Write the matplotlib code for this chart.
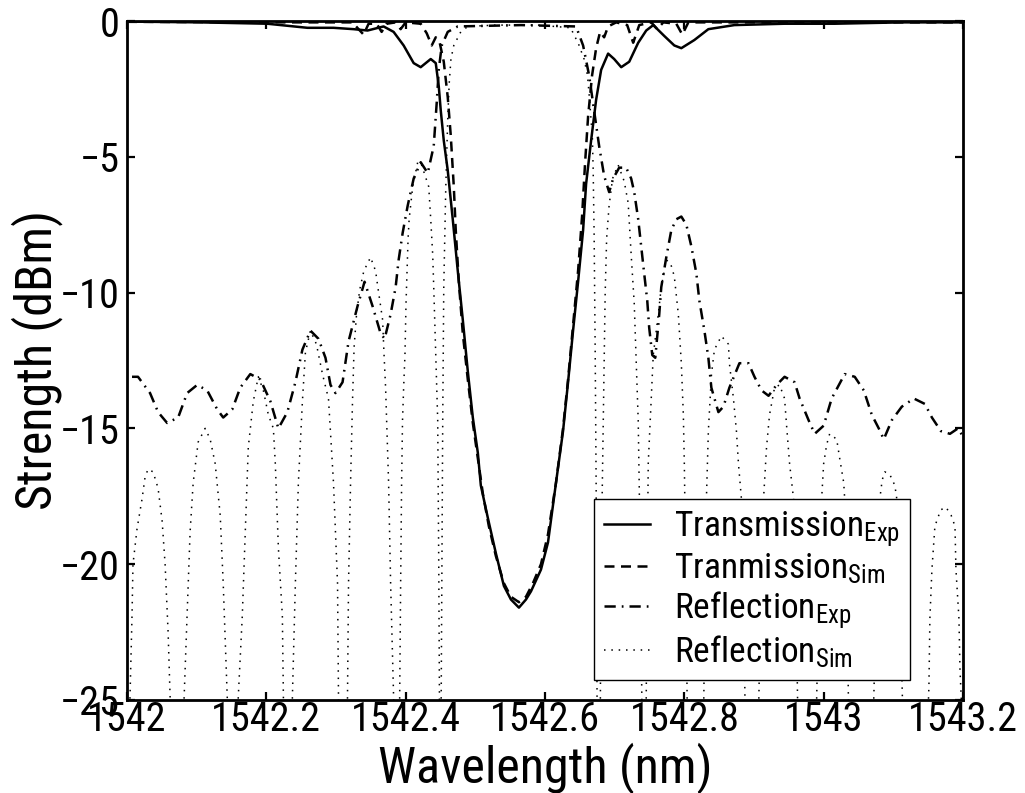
import matplotlib
matplotlib.use("Agg")
import matplotlib.pyplot as plt
from matplotlib import font_manager
from matplotlib.font_manager import FontProperties


def pick_font(*names):
    for n in names:
        try:
            font_manager.findfont(FontProperties(family=n), fallback_to_default=False)
            return n
        except Exception:
            pass
    return "DejaVu Sans"


FONT = pick_font("Roboto Condensed", "PT Sans Narrow", "Archivo Narrow", "Liberation Sans")
fs = 1.0 if FONT != "Liberation Sans" else 0.85

plt.rcParams["font.family"] = [FONT, "DejaVu Sans"]
plt.rcParams["mathtext.fontset"] = "custom"
plt.rcParams["mathtext.rm"] = FONT
plt.rcParams["mathtext.it"] = FONT
plt.rcParams["mathtext.bf"] = FONT

# ---- measured transmission (wavelength in nm, strength in dBm) ----
wl_trans_exp = [1542.000, 1542.105, 1542.2014, 1542.2590, 1542.2964, 1542.3252, 1542.3453,
                1542.3683, 1542.3827, 1542.3971, 1542.4115, 1542.4216, 1542.4360, 1542.4432,
                1542.4475, 1542.4504, 1542.4547, 1542.4604, 1542.4676, 1542.4748, 1542.4820,
                1542.4892, 1542.4964, 1542.5036, 1542.5079, 1542.5180, 1542.5295, 1542.5410,
                1542.5511, 1542.5626, 1542.5727, 1542.5799, 1542.5942, 1542.6043, 1542.6158,
                1542.6259, 1542.6331, 1542.6403, 1542.6475, 1542.6547, 1542.6590, 1542.6662,
                1542.6734, 1542.6806, 1542.6906, 1542.6993, 1542.7094, 1542.7209, 1542.7338,
                1542.7453, 1542.7554, 1542.7712, 1542.7856, 1542.7957, 1542.8144, 1542.8345,
                1542.8719, 1542.9439, 1543.0158, 1543.1122, 1543.2000]
trans_exp = [-0.02, -0.05, -0.1, -0.25, -0.25, -0.3, -0.35,
             -0.2, -0.4, -0.9, -1.55, -1.7, -1.4, -1.55,
             -2.4, -3.3, -4.4, -5.5, -7.3, -9.2, -11.0,
             -12.9, -14.6, -15.9, -17.1, -18.3, -19.6, -20.8,
             -21.3, -21.6, -21.3, -21.0, -20.2, -19.2, -17.0,
             -15.1, -13.3, -11.4, -9.6, -7.7, -6.0, -4.4,
             -2.9, -1.8, -1.2, -1.4, -1.7, -1.5, -0.8,
             -0.35, -0.15, -0.55, -0.9, -1.0, -0.7, -0.3,
             -0.15, -0.1, -0.1, -0.05, -0.05]

# ---- simulated transmission ----
wl_trans_sim = [1542.000, 1542.2489, 1542.3237, 1542.3324, 1542.3396, 1542.3468, 1542.3583,
                1542.3655, 1542.3727, 1542.3856, 1542.3928, 1542.4000, 1542.4216, 1542.4302,
                1542.4374, 1542.4432, 1542.4489, 1542.4547, 1542.4604, 1542.4647, 1542.4691,
                1542.4719, 1542.4763, 1542.4820, 1542.4892, 1542.4964, 1542.5036, 1542.5108,
                1542.5194, 1542.5295, 1542.5410, 1542.5511, 1542.5626, 1542.5727, 1542.5827,
                1542.5942, 1542.6043, 1542.6158, 1542.6259, 1542.6331, 1542.6403, 1542.6475,
                1542.6532, 1542.6576, 1542.6619, 1542.6676, 1542.6734, 1542.6791, 1542.6849,
                1542.6906, 1542.7022, 1542.7180, 1542.7266, 1542.7353, 1542.7525, 1542.7612,
                1542.7698, 1542.7885, 1542.7971, 1542.8058, 1543.2000]
trans_sim = [-0.03, -0.05, -0.05, -0.3, -0.5, -0.1, -0.1,
             -0.4, -0.1, -0.05, -0.3, -0.05, -0.1, -0.45,
             -0.9, -0.6, -0.8, -1.5, -2.8, -4.2, -6.1,
             -7.7, -9.6, -11.5, -13.2, -14.8, -16.1, -17.4,
             -18.6, -19.7, -20.7, -21.2, -21.4, -21.2, -20.7,
             -20.0, -18.9, -17.0, -15.0, -13.2, -11.2, -9.2,
             -7.2, -5.2, -3.5, -2.0, -1.0, -0.4, -0.6,
             -0.2, -0.05, -0.15, -0.8, -0.15, -0.05, -0.3,
             -0.05, -0.1, -0.5, -0.05, -0.05]

# ---- measured reflection ----
wl_refl_exp = [1542.0072, 1542.0158, 1542.0331, 1542.0446, 1542.0576, 1542.0734, 1542.0863,
               1542.1007, 1542.1151, 1542.1295, 1542.1381, 1542.1511, 1542.1626, 1542.1770,
               1542.1914, 1542.2058, 1542.2173, 1542.2302, 1542.2417, 1542.2518, 1542.2633,
               1542.2748, 1542.2849, 1542.2921, 1542.2993, 1542.3094, 1542.3180, 1542.3309,
               1542.3410, 1542.3525, 1542.3640, 1542.3698, 1542.3784, 1542.3856, 1542.3899,
               1542.3957, 1542.4029, 1542.4115, 1542.4216, 1542.4317, 1542.4403, 1542.4446,
               1542.4475, 1542.4518, 1542.4604, 1542.4748, 1542.5655, 1542.6446, 1542.6547,
               1542.6633, 1542.6705, 1542.6777, 1542.6849, 1542.6921, 1542.6978, 1542.7065,
               1542.7165, 1542.7237, 1542.7281, 1542.7338, 1542.7381, 1542.7424, 1542.7468,
               1542.7496, 1542.7540, 1542.7583, 1542.7640, 1542.7669, 1542.7741, 1542.7813,
               1542.7885, 1542.7957, 1542.8029, 1542.8101, 1542.8173, 1542.8216, 1542.8288,
               1542.8345, 1542.8388, 1542.8489, 1542.8561, 1542.8647, 1542.8791, 1542.8921,
               1542.9007, 1542.9108, 1542.9209, 1542.9324, 1542.9439, 1542.9583, 1542.9655,
               1542.9784, 1542.9871, 1543.0000, 1543.0115, 1543.0302, 1543.0446, 1543.0576,
               1543.0691, 1543.0791, 1543.0863, 1543.0978, 1543.1122, 1543.1295, 1543.1453,
               1543.1554, 1543.1683, 1543.1813, 1543.1928, 1543.2000]
refl_exp = [-13.1, -13.1, -13.7, -14.4, -14.8, -14.6, -13.7,
            -13.4, -13.6, -14.3, -14.6, -14.3, -13.5, -13.0,
            -13.2, -14.0, -15.0, -14.4, -13.3, -12.1, -11.4,
            -11.7, -12.4, -13.4, -13.7, -13.3, -11.8, -10.5,
            -9.6, -10.5, -11.5, -11.7, -10.8, -9.8, -8.8,
            -7.8, -6.8, -5.8, -5.2, -5.6, -4.6, -3.0,
            -1.8, -0.9, -0.4, -0.2, -0.15, -0.2, -0.9,
            -2.0, -3.3, -4.6, -5.7, -6.3, -5.8, -5.4,
            -5.4, -5.8, -6.3, -7.3, -8.3, -9.3, -10.3,
            -11.3, -12.3, -12.4, -10.8, -9.8, -8.7, -7.7,
            -7.3, -7.2, -7.5, -8.3, -9.3, -10.3, -11.4,
            -12.4, -13.5, -14.4, -14.2, -13.5, -12.6, -12.6,
            -13.1, -13.6, -13.8, -13.4, -13.1, -13.3, -13.9,
            -14.7, -15.2, -14.9, -13.9, -13.0, -13.1, -13.6,
            -14.5, -15.0, -15.4, -14.7, -14.2, -13.9, -14.1,
            -14.6, -15.1, -15.2, -15.0, -15.3]

# ---- simulated reflection (side-lobe nulls fall far below the axis floor) ----
wl_refl_sim = [1541.998, 1542.0043, 1542.0072, 1542.0086, 1542.0144, 1542.0216, 1542.0259,
               1542.0302, 1542.0374, 1542.0446, 1542.0504, 1542.0547, 1542.0590, 1542.0619,
               1542.0720,
               1542.0820, 1542.0863, 1542.0906, 1542.0950, 1542.1022, 1542.1122, 1542.1194,
               1542.1266, 1542.1338, 1542.1381, 1542.1439, 1542.1520,
               1542.1597, 1542.1655, 1542.1698, 1542.1741, 1542.1813, 1542.1885, 1542.1957,
               1542.2029, 1542.2101, 1542.2129, 1542.2173, 1542.2230, 1542.2245, 1542.2310,
               1542.2374, 1542.2417, 1542.2460, 1542.2518, 1542.2561, 1542.2633, 1542.2719,
               1542.2806, 1542.2892, 1542.2964, 1542.3022, 1542.3036, 1542.3100,
               1542.3165, 1542.3180, 1542.3209, 1542.3237, 1542.3260, 1542.3295, 1542.3340,
               1542.3400, 1542.3496, 1542.3568, 1542.3612, 1542.3669, 1542.3690, 1542.3712,
               1542.3727, 1542.3755, 1542.3784, 1542.3827, 1542.3870,
               1542.3914, 1542.3928, 1542.3942, 1542.3955, 1542.3971, 1542.3990, 1542.4005,
               1542.4020, 1542.4035, 1542.4050, 1542.4101, 1542.4173, 1542.4216, 1542.4331,
               1542.4360, 1542.4388, 1542.4403, 1542.4432, 1542.4460, 1542.4475, 1542.4485,
               1542.4495,
               1542.4510, 1542.4520, 1542.4532, 1542.4547, 1542.4576, 1542.4604, 1542.4625,
               1542.4650, 1542.4691, 1542.4791, 1542.4892, 1542.5300, 1542.5900, 1542.6374,
               1542.6403, 1542.6475, 1542.6518, 1542.6561, 1542.6610, 1542.6640, 1542.6680,
               1542.6691, 1542.6705, 1542.6720, 1542.6734, 1542.6748, 1542.6770,
               1542.6795, 1542.6806, 1542.6835, 1542.6864, 1542.6885, 1542.6920, 1542.6970,
               1542.7050, 1542.7137, 1542.7194, 1542.7237, 1542.7281, 1542.7338, 1542.7352,
               1542.7370, 1542.7390, 1542.7420,
               1542.7453, 1542.7468, 1542.7482, 1542.7525, 1542.7554, 1542.7626, 1542.7669,
               1542.7741, 1542.7800, 1542.7856, 1542.7914, 1542.7957, 1542.7986, 1542.8000,
               1542.8020, 1542.8040, 1542.8160,
               1542.8280, 1542.8300, 1542.8317, 1542.8345, 1542.8390, 1542.8432, 1542.8532,
               1542.8633, 1542.8647, 1542.8705, 1542.8748, 1542.8777, 1542.8820, 1542.8850,
               1542.8870, 1542.8960,
               1542.9070, 1542.9100, 1542.9137, 1542.9180, 1542.9223, 1542.9295, 1542.9367,
               1542.9439, 1542.9468, 1542.9511, 1542.9568, 1542.9600, 1542.9625, 1542.9740,
               1542.9900, 1542.9935, 1542.9971, 1543.0000, 1543.0043, 1543.0086, 1543.0187,
               1543.0230, 1543.0288, 1543.0302, 1543.0330, 1543.0355, 1543.0530,
               1543.0720, 1543.0760, 1543.0806, 1543.0840, 1543.0878, 1543.0950, 1543.1022,
               1543.1050, 1543.1090, 1543.1130, 1543.1300,
               1543.1511, 1543.1525, 1543.1554, 1543.1597, 1543.1680, 1543.1755, 1543.1830,
               1543.1885, 1543.1899, 1543.1942, 1543.1957, 1543.1975, 1543.2000]
refl_sim = [-40, -24.9, -21.9, -20.0, -18.7, -17.6, -16.8,
            -16.5, -16.6, -17.2, -18.4, -20.0, -22.5, -24.9,
            -40,
            -24.9, -21.9, -18.8, -17.0, -15.5, -15.0, -15.4,
            -16.3, -18.2, -20.7, -24.9, -40,
            -24.9, -21.9, -18.8, -15.7, -14.0, -13.1, -13.6,
            -14.5, -15.0, -16.3, -19.4, -21.9, -24.9, -40,
            -24.9, -20.7, -17.0, -14.0, -12.2, -11.4, -11.9,
            -13.0, -13.9, -17.0, -20.7, -24.9, -40,
            -24.9, -20.7, -17.0, -14.0, -12.0, -10.8, -9.9,
            -9.2, -8.7, -9.2, -10.0, -11.0, -12.3, -13.5,
            -14.7, -17.0, -20.7, -24.9, -40,
            -24.9, -20.7, -17.0, -14.7, -13.5, -12.3, -10.4,
            -9.2, -8.0, -7.3, -6.1, -5.2, -5.2, -6.1,
            -7.3, -8.6, -9.8, -12.3, -14.7, -20.0, -24.9,
            -40,
            -24.9, -20.0, -14.7, -9.8, -6.1, -3.6, -2.3,
            -1.4, -0.9, -0.4, -0.2, -0.15, -0.15, -0.25,
            -0.45, -0.8, -1.1, -1.4, -2.0, -2.9, -4.3,
            -5.4, -7.8, -12.0, -17.0, -24.9, -40,
            -24.9, -20.0, -15.0, -10.0, -8.0, -6.8, -5.8,
            -5.3, -5.9, -6.7, -8.6, -10.4, -14.7, -17.0,
            -20.0, -24.9, -40,
            -24.9, -20.0, -16.3, -13.9, -12.3, -10.8, -9.8,
            -8.8, -8.9, -9.4, -10.8, -12.6, -14.5, -16.3,
            -20.0, -24.9, -40,
            -24.9, -20.0, -17.6, -15.1, -13.0, -12.1, -11.6,
            -11.9, -12.6, -13.9, -15.1, -16.3, -17.6, -20.5,
            -24.9, -40,
            -24.9, -20.5, -17.6, -15.7, -14.5, -13.5, -13.4,
            -13.9, -14.9, -16.3, -17.6, -20.5, -24.9, -40,
            -24.9, -20.5, -17.6, -16.3, -15.6, -15.2, -15.4,
            -16.1, -17.0, -17.6, -20.5, -24.9, -40,
            -24.9, -20.5, -17.6, -16.9, -16.6, -16.7, -17.1,
            -17.6, -20.5, -24.9, -40,
            -24.5, -22.0, -20.2, -18.6, -18.0, -17.9, -18.2,
            -18.6, -20.2, -22.0, -23.9, -24.9, -32]

labels = [r"Transmission$_{\mathrm{Exp}}$", r"Tranmission$_{\mathrm{Sim}}$",
          r"Reflection$_{\mathrm{Exp}}$", r"Reflection$_{\mathrm{Sim}}$"]
x_ticks = [1542, 1542.2, 1542.4, 1542.6, 1542.8, 1543, 1543.2]
x_ticklabels = ["1542", "1542.2", "1542.4", "1542.6", "1542.8", "1543", "1543.2"]
y_ticks = [-25, -20, -15, -10, -5, 0]

fig = plt.figure(figsize=(10.25, 7.93), dpi=100)
ax = fig.add_axes([0.1239, 0.1173, 0.8156, 0.8562])

ax.plot(wl_trans_exp, trans_exp, color="black", lw=1.8, ls="-", label=labels[0])
ax.plot(wl_trans_sim, trans_sim, color="black", lw=1.8, ls=(0, (4, 2.6)), label=labels[1])
ax.plot(wl_refl_exp, refl_exp, color="black", lw=1.8, ls=(0, (4.5, 2.4, 0.7, 2.4)), label=labels[2])
ax.plot(wl_refl_sim, refl_sim, color="black", lw=1.1, ls=(0, (1, 3.8)), label=labels[3])

ax.set_xlim(1542, 1543.2)
ax.set_ylim(-25, 0)
ax.set_xticks(x_ticks)
ax.set_xticklabels(x_ticklabels)
ax.set_yticks(y_ticks)

for s in ax.spines.values():
    s.set_linewidth(2.0)
ax.tick_params(direction="in", length=6, width=1.6, top=True, right=True,
               labelsize=29 * fs)
ax.tick_params(axis="x", pad=0)
ax.tick_params(axis="y", pad=5)

ax.set_xlabel("Wavelength (nm)", fontsize=36 * fs, labelpad=2)
ax.set_ylabel("Strength (dBm)", fontsize=36 * fs, labelpad=-2)

leg = ax.legend(loc="lower right", bbox_to_anchor=(0.937, 0.029), borderaxespad=0,
                fontsize=25.5 * fs, frameon=True, fancybox=False, framealpha=1,
                edgecolor="black", handlelength=1.3, handletextpad=0.7,
                labelspacing=0.08, borderpad=0.28)
leg.get_frame().set_linewidth(1.0)

fig.savefig("out.png", dpi=100)
